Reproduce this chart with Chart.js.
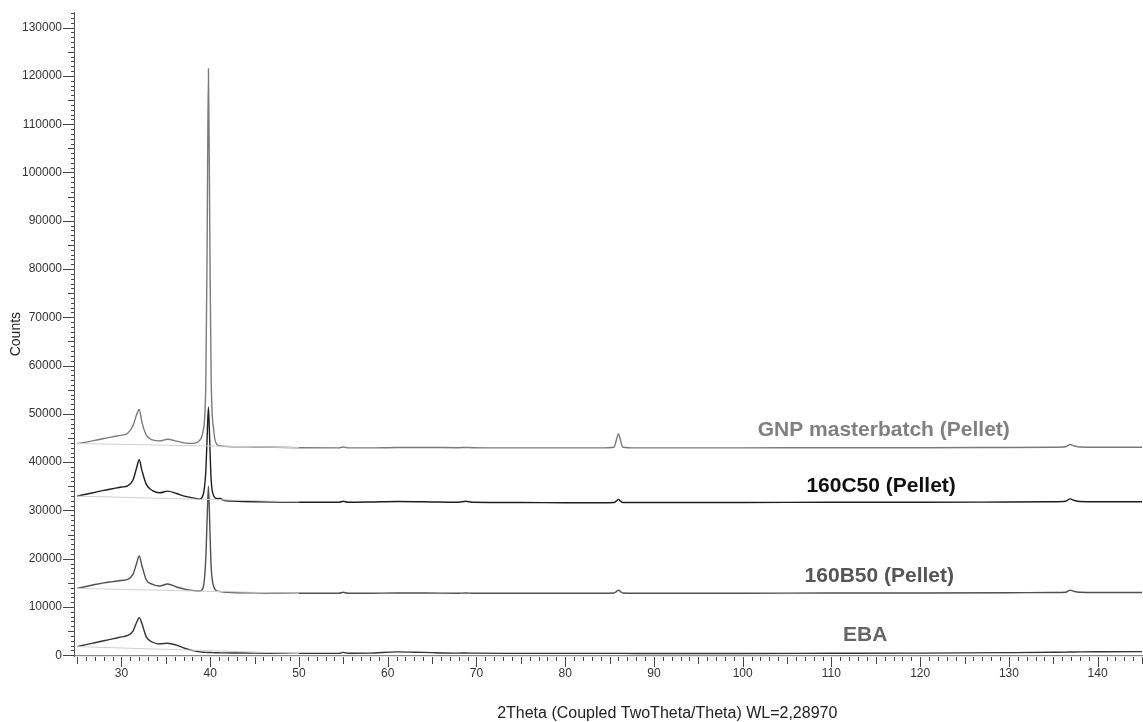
<!DOCTYPE html>
<html>
<head>
<meta charset="utf-8">
<script src="https://cdn.jsdelivr.net/npm/chart.js@4"></script>
<style>
  html, body { margin: 0; padding: 0; background: #fff; }
  #wrap { width: 1143px; height: 722px; }
</style>
</head>
<body>
<div id="wrap"><canvas id="c" width="1143" height="722"></canvas></div>
<script>
// ---- data ----
const twoTheta = [25, 26, 27, 28, 29, 30, 30.7, 31.3, 31.7, 32.0, 32.3, 32.8, 33.5, 34.3, 35.2, 36.2, 37.2, 38.2, 38.8,
  39.2, 39.5, 39.65, 39.8, 39.95, 40.1, 40.4, 40.8, 41.1, 41.5, 42.5, 45, 50, 54.5, 55, 55.5, 58, 61, 64, 68, 68.8, 69.5,
  75, 80, 84, 85.5, 85.8, 86.0, 86.2, 86.5, 88, 95, 100, 110, 120, 130, 135, 136.4, 136.9, 137.4, 138, 140, 145];

const gnpCounts = [43860, 44150, 44500, 44900, 45250, 45600, 46000, 47600, 49800, 50900, 48300, 45600, 44600, 44400, 44750, 44350, 43950, 43900, 44500,
  46500, 56000, 85000, 121500, 88000, 58000, 46500, 43600, 43400, 43300, 43200, 43150, 43000, 42950, 43150, 42950, 42950, 43050, 43050, 43000, 43050, 43000,
  42950, 42950, 42950, 43100, 44800, 45900, 44800, 43100, 42950, 42950, 42950, 43000, 43000, 43050, 43100, 43200, 43650, 43350, 43150, 43100, 43100];

const c50Counts = [32960, 33350, 33750, 34150, 34500, 34850, 35100, 36300, 38800, 40500, 38300, 35400, 34100, 33650, 34000, 33500, 32900, 32550, 32350,
  33200, 38000, 45000, 51400, 44000, 36500, 33000, 32450, 32500, 32100, 31950, 31800, 31700, 31700, 31900, 31700, 31750, 31850, 31800, 31700, 31900, 31700,
  31650, 31600, 31600, 31650, 32000, 32300, 32000, 31650, 31650, 31650, 31650, 31700, 31700, 31750, 31800, 31900, 32400, 32050, 31850, 31800, 31800];

const b50Counts = [13860, 14250, 14650, 15000, 15250, 15500, 15700, 16800, 19000, 20550, 18600, 15600, 14700, 14350, 14750, 14150, 13650, 13400, 13300,
  14000, 20000, 28000, 35000, 27000, 18500, 14200, 13300, 13200, 13100, 13000, 12950, 12850, 12850, 13050, 12850, 12850, 12900, 12900, 12850, 12900, 12850,
  12850, 12850, 12850, 12900, 13250, 13500, 13250, 12900, 12850, 12850, 12850, 12900, 12900, 12950, 13000, 13050, 13500, 13200, 13050, 13000, 13000];

const ebaCounts = [1790, 2200, 2600, 3000, 3400, 3800, 4100, 5000, 6800, 7800, 6600, 3800, 2700, 2350, 2500, 2100, 1400, 900, 700,
  620, 600, 590, 580, 570, 560, 540, 520, 500, 490, 470, 450, 400, 400, 600, 420, 450, 700, 600, 450, 470, 440,
  400, 400, 390, 390, 400, 400, 400, 390, 380, 380, 380, 420, 450, 550, 620, 650, 680, 690, 700, 720, 750];

// fitted backgrounds (light grey straight lines)
const bgTheta = [25, 50];
const gnpBg = [43860, 43000];
const c50Bg = [32960, 31780];
const b50Bg = [13860, 12830];
const ebaBg = [1790, 380];

const sampleNames = ['GNP masterbatch (Pellet)', '160C50 (Pellet)', '160B50 (Pellet)', 'EBA'];
const xTitle = '2Theta (Coupled TwoTheta/Theta) WL=2,28970';
const xTickValues = [30, 40, 50, 60, 70, 80, 90, 100, 110, 120, 130, 140];
const yTickValues = [0, 10000, 20000, 30000, 40000, 50000, 60000, 70000, 80000, 90000, 100000, 110000, 120000, 130000];

// ---- helpers ----
const pts = (xs, ys) => xs.map((x, i) => ({ x: x, y: ys[i] }));
const FONT = "Arial, 'Liberation Sans', Helvetica, sans-serif";

function lineDs(label, xs, ys, color, width) {
  return {
    label: label, data: pts(xs, ys), borderColor: color, backgroundColor: color,
    borderWidth: width, pointRadius: 0, fill: false,
    cubicInterpolationMode: 'monotone'
  };
}

const datasets = [
  Object.assign(lineDs('bg1', bgTheta, gnpBg, '#cfcfcf', 1), { cubicInterpolationMode: 'default', tension: 0 }),
  Object.assign(lineDs('bg2', bgTheta, c50Bg, '#cfcfcf', 1), { cubicInterpolationMode: 'default', tension: 0 }),
  Object.assign(lineDs('bg3', bgTheta, b50Bg, '#cfcfcf', 1), { cubicInterpolationMode: 'default', tension: 0 }),
  Object.assign(lineDs('bg4', bgTheta, ebaBg, '#cfcfcf', 1), { cubicInterpolationMode: 'default', tension: 0 }),
  lineDs(sampleNames[0], twoTheta, gnpCounts, '#7a7a7a', 1.4),
  lineDs(sampleNames[1], twoTheta, c50Counts, '#1e1e1e', 1.4),
  lineDs(sampleNames[2], twoTheta, b50Counts, '#505050', 1.4),
  lineDs(sampleNames[3], twoTheta, ebaCounts, '#333333', 1.4)
];

// label placement (in data units) and styles
const labelStyle = [
  { x: 115.9, y: 46600, color: '#808080' },
  { x: 115.6, y: 35030, color: '#111111' },
  { x: 115.4, y: 16470, color: '#555555' },
  { x: 113.8, y: 4200, color: '#666666' }
];

const ticksPlugin = {
  id: 'minorTicks',
  afterDraw(chart) {
    const ctx = chart.ctx;
    const xs = chart.scales.x, ys = chart.scales.y;
    const axY = chart.chartArea.bottom, axX = chart.chartArea.left;
    ctx.save();
    ctx.strokeStyle = '#444';
    ctx.lineWidth = 1;
    ctx.beginPath();
    for (let v = 25; v <= 145; v++) {
      const px = Math.round(xs.getPixelForValue(v)) + 0.5;
      const len = (v % 10 === 0) ? 10 : (v % 5 === 0 ? 7 : 4);
      ctx.moveTo(px, axY + 1);
      ctx.lineTo(px, axY + 1 + len);
    }
    for (let v = 0; v <= 133000; v += 1000) {
      const py = Math.round(ys.getPixelForValue(v)) + 0.5;
      const len = (v % 10000 === 0) ? 11 : (v % 5000 === 0 ? 6 : 3);
      ctx.moveTo(axX, py);
      ctx.lineTo(axX - len, py);
    }
    ctx.stroke();
    // sample labels
    ctx.font = "bold 21px " + FONT;
    ctx.textAlign = 'center';
    ctx.textBaseline = 'middle';
    sampleNames.forEach((name, i) => {
      const s = labelStyle[i];
      ctx.fillStyle = s.color;
      ctx.fillText(name, xs.getPixelForValue(s.x), ys.getPixelForValue(s.y));
    });
    // x-axis title (placed under the 70..110 region, as in the reference)
    ctx.font = "16px " + FONT;
    ctx.fillStyle = '#222';
    ctx.textBaseline = 'alphabetic';
    ctx.fillText(xTitle, xs.getPixelForValue(91.5), axY + 62);
    ctx.restore();
  }
};

new Chart(document.getElementById('c'), {
  type: 'line',
  data: { datasets: datasets },
  plugins: [ticksPlugin],
  options: {
    responsive: false,
    devicePixelRatio: 1,
    animation: false,
    layout: { padding: { left: 0, right: 1, top: 5, bottom: 0 } },
    plugins: {
      legend: { display: false },
      tooltip: { enabled: false },
      title: { display: false }
    },
    scales: {
      x: {
        type: 'linear', min: 24.65, max: 145,
        afterFit: s => { s.height = 66; },
        afterBuildTicks: s => { s.ticks = xTickValues.map(v => ({ value: v })); },
        grid: { display: true, drawOnChartArea: false, drawTicks: false },
        border: { display: true, color: '#8a8a8a', width: 1.2 },
        ticks: {
          padding: 10, color: '#333', maxRotation: 0, autoSkip: false,
          font: { family: FONT, size: 12 },
          callback: v => String(v)
        }
      },
      y: {
        type: 'linear', min: -150, max: 133200,
        afterFit: s => { s.width = 74; },
        afterBuildTicks: s => { s.ticks = yTickValues.map(v => ({ value: v })); },
        grid: { display: true, drawOnChartArea: false, drawTicks: true, tickLength: 7, tickColor: 'rgba(0,0,0,0)' },
        border: { display: true, color: '#555', width: 1 },
        title: {
          display: true, text: 'Counts', color: '#222',
          font: { family: FONT, size: 14 }, padding: { top: 8 }
        },
        ticks: {
          padding: 5, color: '#333', autoSkip: false,
          font: { family: FONT, size: 12 },
          callback: v => String(v)
        }
      }
    }
  }
});
</script>
</body>
</html>
